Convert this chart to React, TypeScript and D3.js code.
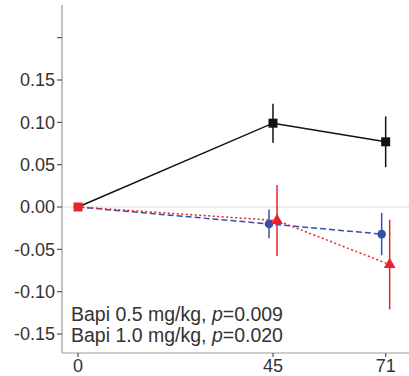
import React from "react";
import * as d3 from "d3";

const days = [0, 45, 71];
const yTicks = [0.2, 0.15, 0.1, 0.05, 0, -0.05, -0.1, -0.15];
const yTickLabels = ["", "0.15", "0.10", "0.05", "0.00", "-0.05", "-0.10", "-0.15"];
const controlMean = [0, 0.099, 0.077];
const controlErr = [0, 0.023, 0.03];
const lowMean = [0, -0.02, -0.032];
const lowErr = [0, 0.017, 0.025];
const highMean = [0, -0.016, -0.068];
const highErr = [0, 0.042, 0.053];
const legendLines = [
  { name: "Bapi 0.5 mg/kg, ", p: "0.009" },
  { name: "Bapi 1.0 mg/kg, ", p: "0.020" },
];

const W = 409;
const H = 376;

export default function App() {
  const x = d3.scaleLinear().domain([0, 45]).range([78, 273]);
  const y = d3.scaleLinear().domain([0, 0.15]).range([207, 80]);
  const axisX = 62;
  const axisBottom = 353;

  const series = [
    { mean: controlMean, err: controlErr, color: "#111", dodge: 0, dash: "none", shape: "square" },
    { mean: lowMean, err: lowErr, color: "#3550a6", dodge: -4, dash: "6,3", shape: "circle" },
    { mean: highMean, err: highErr, color: "#e8232a", dodge: 4, dash: "2,2.5", shape: "triangle" },
  ];

  const px = (d: number, dodge: number) => x(d) + (d === 0 ? 0 : dodge);
  const line = d3.line<[number, number]>().x((d) => d[0]).y((d) => d[1]);
  const tri = d3.symbol().type(d3.symbolTriangle).size(60)();

  return (
    <svg width={W} height={H} style={{ position: "absolute", left: 0, top: 0, background: "#fff" }}
      fontFamily="Liberation Sans, Arial, sans-serif">
      {/* zero reference line */}
      <line x1={axisX} x2={W} y1={y(0)} y2={y(0)} stroke="#d9d9d9" strokeWidth={1} />
      {/* axes */}
      <line x1={axisX} x2={axisX} y1={5} y2={axisBottom} stroke="#999" strokeWidth={1.2} />
      <line x1={axisX} x2={W} y1={axisBottom} y2={axisBottom} stroke="#999" strokeWidth={1.2} />
      {yTicks.map((t, i) => (
        <g key={i}>
          <line x1={axisX - 5} x2={axisX} y1={y(t)} y2={y(t)} stroke="#555" strokeWidth={1.2} />
          {yTickLabels[i] && (
            <text x={axisX - 7} y={y(t)} dy="0.36em" textAnchor="end" fontSize={18} fill="#333">
              {yTickLabels[i]}
            </text>
          )}
        </g>
      ))}
      {days.map((d) => (
        <g key={d}>
          <line x1={x(d)} x2={x(d)} y1={axisBottom} y2={axisBottom + 4} stroke="#555" strokeWidth={1.2} />
          <text x={x(d)} y={axisBottom + 19} textAnchor="middle" fontSize={18} fill="#333">{d}</text>
        </g>
      ))}
      {/* series */}
      {series.map((s, si) => {
        const pts: [number, number][] = days.map((d, i) => [px(d, s.dodge), y(s.mean[i])]);
        return (
          <g key={si}>
            <path d={line(pts) || ""} fill="none" stroke={s.color} strokeWidth={1.5}
              strokeDasharray={s.dash === "none" ? undefined : s.dash} />
            {days.map((d, i) =>
              s.err[i] > 0 ? (
                <line key={"e" + i} x1={px(d, s.dodge)} x2={px(d, s.dodge)}
                  y1={y(s.mean[i] + s.err[i])} y2={y(s.mean[i] - s.err[i])}
                  stroke={s.color} strokeWidth={1.5} />
              ) : null
            )}
            {days.map((d, i) => {
              if (d === 0) return null;
              const cx = px(d, s.dodge);
              const cy = y(s.mean[i]);
              if (s.shape === "square")
                return <rect key={"m" + i} x={cx - 4.5} y={cy - 4.5} width={9} height={9} fill={s.color} />;
              if (s.shape === "circle")
                return <circle key={"m" + i} cx={cx} cy={cy} r={4.3} fill={s.color} />;
              return <path key={"m" + i} d={tri || ""} transform={`translate(${cx},${cy})`} fill={s.color} />;
            })}
          </g>
        );
      })}
      {/* origin marker */}
      <rect x={x(0) - 4.5} y={y(0) - 4.5} width={9} height={9} fill="#e8232a" />
      {/* legend text */}
      {legendLines.map((l, i) => (
        <text key={i} x={71} y={321 + i * 21} fontSize={19.5} fill="#333">
          {l.name}
          <tspan fontStyle="italic">p</tspan>={l.p}
        </text>
      ))}
    </svg>
  );
}
